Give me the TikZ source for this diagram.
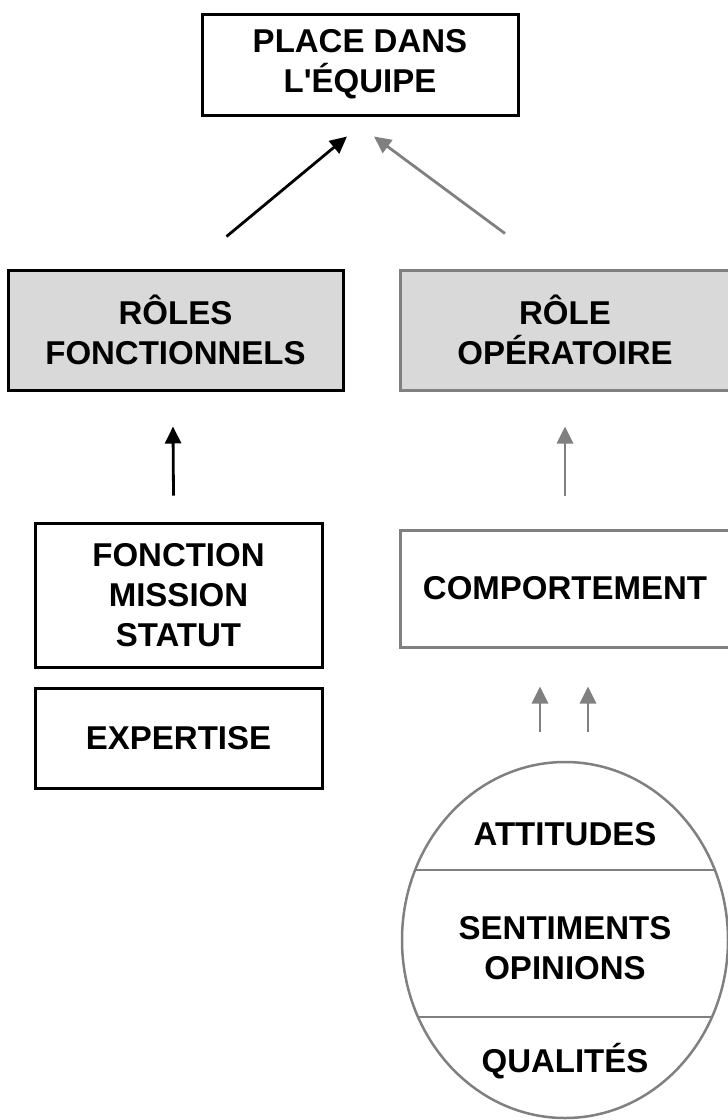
\documentclass[tikz,border=0pt]{standalone}
\usepackage{fontspec}
\setmainfont{Liberation Sans}
\usetikzlibrary{arrows.meta,shapes.geometric}

\definecolor{linegrey}{HTML}{808080}
\definecolor{fillgrey}{HTML}{D9D9D9}

\begin{document}
\begin{tikzpicture}[
    x=1pt, y=-1pt,
    box/.style={draw, line width=3pt, rectangle, align=center,
        font=\fontsize{33}{40}\selectfont\bfseries},
    greybox/.style={box, draw=linegrey},
    role/.style={fill=fillgrey},
    label/.style={align=center, font=\fontsize{33}{40}\selectfont\bfseries},
    arrow/.style={-{Triangle[length=17pt,width=16pt]}, line width=2.8pt},
    greyarrow/.style={arrow, draw=linegrey}
]
    \useasboundingbox (0,0) rectangle (728,1120);

    % place dans l'equipe
    \node[box, minimum width=316pt, minimum height=101pt] (place) at (360,64.5) {PLACE DANS\\L\textquotesingle ÉQUIPE};

    % les deux roles
    \node[box, role, minimum width=335pt, minimum height=120pt] (fonct) at (175.5,330) {RÔLES\\FONCTIONNELS};
    \node[greybox, role, minimum width=330pt, minimum height=120pt] (operat) at (565,330) {RÔLE\\OPÉRATOIRE};

    % colonne de gauche
    \node[box, minimum width=287pt, minimum height=144pt] (mission) at (178.5,595) {FONCTION\\MISSION\\STATUT};
    \node[box, minimum width=287pt, minimum height=100pt] (expert) at (178.5,738) {EXPERTISE};

    % colonne de droite
    \node[greybox, minimum width=330pt, minimum height=117pt] (comport) at (565,588.5) {COMPORTEMENT};
    \node[ellipse, draw=linegrey, line width=2.5pt, minimum width=326pt, minimum height=356pt] (traits) at (565,940) {};
    \draw[draw=linegrey, line width=2.5pt] (traits.center) ++(-150,-70) -- ++(300,0);
    \draw[draw=linegrey, line width=2.5pt] (traits.center) ++(-147,77) -- ++(294,0);
    \node[label] (attit) at (565,834) {ATTITUDES};
    \node[label] (senti) at (565,948) {SENTIMENTS\\OPINIONS};
    \node[label] (quali) at (565,1061) {QUALITÉS};

    % fleches
    \draw[arrow] ([shift={(51,-32)}]fonct.north) -- ([shift={(-13,20)}]place.south);
    \draw[greyarrow] ([shift={(-60,-35)}]operat.north) -- ([shift={(14,20)}]place.south);
    \draw[arrow] ([shift={(-5,-26)}]mission.north) -- ([shift={(-2.5,35)}]fonct.south);
    \draw[greyarrow] ([shift={(0,-33)}]comport.north) -- ([shift={(0,35)}]operat.south);
    \draw[greyarrow] ([shift={(-25,-29)}]traits.north) -- ([shift={(-25,38)}]comport.south);
    \draw[greyarrow] ([shift={(23,-29)}]traits.north) -- ([shift={(23,38)}]comport.south);

\end{tikzpicture}
\end{document}
